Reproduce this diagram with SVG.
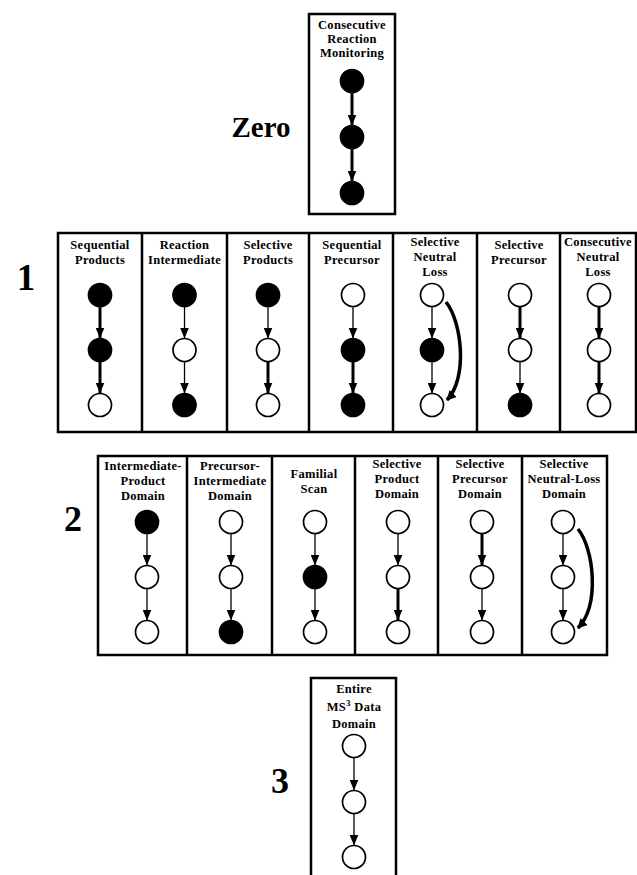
<svg xmlns="http://www.w3.org/2000/svg" width="637" height="875" viewBox="0 0 637 875">
  <style>
    .frame { fill: #fff; stroke: #000; stroke-width: 2.5; }
    .div { stroke: #000; stroke-width: 2.5; }
    .t { font-family: "Liberation Serif", "Times New Roman", serif; font-weight: bold; font-size: 12.5px; text-anchor: middle; fill: #000; letter-spacing: 0.3px; }
    .big { font-family: "Liberation Serif", "Times New Roman", serif; font-weight: bold; fill: #000; text-anchor: middle; }
    .on { fill: #000; stroke: #000; stroke-width: 1.7; }
    .off { fill: #fff; stroke: #000; stroke-width: 1.7; }
    .thin { fill: none; stroke: #000; stroke-width: 1.3; marker-end: url(#head); }
    .thick { fill: none; stroke: #000; stroke-width: 3; marker-end: url(#head); }
    .curve { fill: none; stroke: #000; stroke-width: 3.5; marker-end: url(#headC); }
  </style>
  <defs>
    <marker id="head" markerUnits="userSpaceOnUse" viewBox="0 0 11 9" refX="11" refY="4.5" markerWidth="11" markerHeight="9" orient="auto">
      <path d="M0,0 L11,4.5 L0,9 Z" fill="#000"/>
    </marker>
    <marker id="headC" markerUnits="userSpaceOnUse" viewBox="0 0 10 10" refX="9" refY="5" markerWidth="10" markerHeight="10" orient="auto">
      <path d="M0,0 L10,5 L0,10 Z" fill="#000"/>
    </marker>
  </defs>

  <!-- order labels -->
  <text class="big" x="261" y="137" font-size="29">Zero</text>
  <text class="big" x="26" y="290" font-size="37">1</text>
  <text class="big" x="73" y="531" font-size="36">2</text>
  <text class="big" x="280" y="793" font-size="36">3</text>

  <!-- order zero -->
  <g id="consecutive-reaction-monitoring">
    <rect class="frame" x="309" y="14" width="86" height="200"/>
    <text class="t" x="352" y="29" font-size="11.5">Consecutive</text>
    <text class="t" x="352" y="43" font-size="11.5">Reaction</text>
    <text class="t" x="352" y="57" font-size="11.5">Monitoring</text>
    <circle class="on" cx="352" cy="81" r="11.5"/>
    <circle class="on" cx="352" cy="137" r="11.5"/>
    <circle class="on" cx="352" cy="193" r="11.5"/>
  </g>

  <!-- order one -->
  <rect class="frame" x="58" y="233" width="578" height="199"/>
  <g id="sequential-products">
    <line class="div" x1="142" y1="233" x2="142" y2="432"/>
    <text class="t" x="100" y="249">Sequential</text>
    <text class="t" x="100" y="264">Products</text>
    <circle class="on" cx="100" cy="295" r="11.5"/>
    <circle class="on" cx="100" cy="350" r="11.5"/>
    <circle class="off" cx="100" cy="405" r="11.5"/>
  </g>
  <g id="reaction-intermediate">
    <line class="div" x1="227" y1="233" x2="227" y2="432"/>
    <text class="t" x="184.5" y="249">Reaction</text>
    <text class="t" x="184.5" y="264">Intermediate</text>
    <circle class="on" cx="184.5" cy="295" r="11.5"/>
    <circle class="off" cx="184.5" cy="350" r="11.5"/>
    <circle class="on" cx="184.5" cy="405" r="11.5"/>
  </g>
  <g id="selective-products">
    <line class="div" x1="309" y1="233" x2="309" y2="432"/>
    <text class="t" x="268" y="249">Selective</text>
    <text class="t" x="268" y="264">Products</text>
    <circle class="on" cx="268" cy="295" r="11.5"/>
    <circle class="off" cx="268" cy="350" r="11.5"/>
    <circle class="off" cx="268" cy="405" r="11.5"/>
  </g>
  <g id="sequential-precursor">
    <line class="div" x1="393" y1="233" x2="393" y2="432"/>
    <text class="t" x="352" y="249">Sequential</text>
    <text class="t" x="352" y="264">Precursor</text>
    <circle class="off" cx="353" cy="295" r="11.5"/>
    <circle class="on" cx="353" cy="350" r="11.5"/>
    <circle class="on" cx="353" cy="405" r="11.5"/>
  </g>
  <g id="selective-neutral-loss">
    <line class="div" x1="477" y1="233" x2="477" y2="432"/>
    <text class="t" x="435" y="246">Selective</text>
    <text class="t" x="435" y="261">Neutral</text>
    <text class="t" x="435" y="276">Loss</text>
    <circle class="off" cx="432" cy="295" r="11.5"/>
    <circle class="on" cx="432" cy="350" r="11.5"/>
    <circle class="off" cx="432" cy="405" r="11.5"/>
  </g>
  <g id="selective-precursor">
    <line class="div" x1="560" y1="233" x2="560" y2="432"/>
    <text class="t" x="519" y="249">Selective</text>
    <text class="t" x="519" y="264">Precursor</text>
    <circle class="off" cx="520" cy="295" r="11.5"/>
    <circle class="off" cx="520" cy="350" r="11.5"/>
    <circle class="on" cx="520" cy="405" r="11.5"/>
  </g>
  <g id="consecutive-neutral-loss">
    <text class="t" x="598" y="246" font-size="11.5">Consecutive</text>
    <text class="t" x="598" y="261">Neutral</text>
    <text class="t" x="598" y="276">Loss</text>
    <circle class="off" cx="599" cy="295" r="11.5"/>
    <circle class="off" cx="599" cy="350" r="11.5"/>
    <circle class="off" cx="599" cy="405" r="11.5"/>
  </g>

  <!-- order two -->
  <rect class="frame" x="98" y="456" width="509" height="199"/>
  <g id="intermediate-product-domain">
    <line class="div" x1="187" y1="456" x2="187" y2="655"/>
    <text class="t" x="143" y="470">Intermediate-</text>
    <text class="t" x="143" y="485">Product</text>
    <text class="t" x="143" y="500">Domain</text>
    <circle class="on" cx="147" cy="522" r="11.5"/>
    <circle class="off" cx="147" cy="577" r="11.5"/>
    <circle class="off" cx="147" cy="632" r="11.5"/>
  </g>
  <g id="precursor-intermediate-domain">
    <line class="div" x1="272" y1="456" x2="272" y2="655"/>
    <text class="t" x="230" y="470">Precursor-</text>
    <text class="t" x="230" y="485">Intermediate</text>
    <text class="t" x="230" y="500">Domain</text>
    <circle class="off" cx="231" cy="522" r="11.5"/>
    <circle class="off" cx="231" cy="577" r="11.5"/>
    <circle class="on" cx="231" cy="632" r="11.5"/>
  </g>
  <g id="familial-scan">
    <line class="div" x1="355" y1="456" x2="355" y2="655"/>
    <text class="t" x="314" y="478">Familial</text>
    <text class="t" x="314" y="493">Scan</text>
    <circle class="off" cx="315" cy="522" r="11.5"/>
    <circle class="on" cx="315" cy="577" r="11.5"/>
    <circle class="off" cx="315" cy="632" r="11.5"/>
  </g>
  <g id="selective-product-domain">
    <line class="div" x1="438" y1="456" x2="438" y2="655"/>
    <text class="t" x="397" y="468">Selective</text>
    <text class="t" x="397" y="483">Product</text>
    <text class="t" x="397" y="498">Domain</text>
    <circle class="off" cx="398" cy="522" r="11.5"/>
    <circle class="off" cx="398" cy="577" r="11.5"/>
    <circle class="off" cx="398" cy="632" r="11.5"/>
  </g>
  <g id="selective-precursor-domain">
    <line class="div" x1="522" y1="456" x2="522" y2="655"/>
    <text class="t" x="480" y="468">Selective</text>
    <text class="t" x="480" y="483">Precursor</text>
    <text class="t" x="480" y="498">Domain</text>
    <circle class="off" cx="482" cy="522" r="11.5"/>
    <circle class="off" cx="482" cy="577" r="11.5"/>
    <circle class="off" cx="482" cy="632" r="11.5"/>
  </g>
  <g id="selective-neutral-loss-domain">
    <text class="t" x="564" y="468" font-size="11.5">Selective</text>
    <text class="t" x="564" y="483" font-size="11.5">Neutral-Loss</text>
    <text class="t" x="564" y="498" font-size="11.5">Domain</text>
    <circle class="off" cx="563" cy="522" r="11.5"/>
    <circle class="off" cx="563" cy="577" r="11.5"/>
    <circle class="off" cx="563" cy="632" r="11.5"/>
  </g>

  <!-- order three -->
  <g id="entire-ms3-data-domain">
    <rect class="frame" x="311" y="678" width="85" height="210"/>
    <text class="t" x="354" y="693" font-size="11.5">Entire</text>
    <text class="t" x="354" y="711" font-size="11.5">MS<tspan dy="-5" font-size="9">3</tspan><tspan dy="5"> Data</tspan></text>
    <text class="t" x="354" y="728" font-size="11.5">Domain</text>
    <circle class="off" cx="354" cy="746" r="11.5"/>
    <circle class="off" cx="354" cy="802" r="11.5"/>
    <circle class="off" cx="354" cy="857" r="11.5"/>
  </g>

  <!-- connectors -->
  <g id="connectors">
    <line class="thick" x1="352" y1="92.5" x2="352" y2="125.5"/>
    <line class="thick" x1="352" y1="148.5" x2="352" y2="181.5"/>

    <line class="thick" x1="100" y1="306.5" x2="100" y2="338.5"/>
    <line class="thick" x1="100" y1="361.5" x2="100" y2="393.5"/>
    <line class="thin" x1="184.5" y1="306.5" x2="184.5" y2="338.5"/>
    <line class="thin" x1="184.5" y1="361.5" x2="184.5" y2="393.5"/>
    <line class="thin" x1="268" y1="306.5" x2="268" y2="338.5"/>
    <line class="thick" x1="268" y1="361.5" x2="268" y2="393.5"/>
    <line class="thin" x1="353" y1="306.5" x2="353" y2="338.5"/>
    <line class="thick" x1="353" y1="361.5" x2="353" y2="393.5"/>
    <line class="thin" x1="432" y1="306.5" x2="432" y2="338.5"/>
    <line class="thin" x1="432" y1="361.5" x2="432" y2="393.5"/>
    <path class="curve" d="M446,302 C462,322 468,378 447,400"/>
    <line class="thick" x1="520" y1="306.5" x2="520" y2="338.5"/>
    <line class="thin" x1="520" y1="361.5" x2="520" y2="393.5"/>
    <line class="thick" x1="599" y1="306.5" x2="599" y2="338.5"/>
    <line class="thick" x1="599" y1="361.5" x2="599" y2="393.5"/>

    <line class="thin" x1="147" y1="533.5" x2="147" y2="565.5"/>
    <line class="thin" x1="147" y1="588.5" x2="147" y2="620.5"/>
    <line class="thin" x1="231" y1="533.5" x2="231" y2="565.5"/>
    <line class="thin" x1="231" y1="588.5" x2="231" y2="620.5"/>
    <line class="thin" x1="315" y1="533.5" x2="315" y2="565.5"/>
    <line class="thin" x1="315" y1="588.5" x2="315" y2="620.5"/>
    <line class="thin" x1="398" y1="533.5" x2="398" y2="565.5"/>
    <line class="thick" x1="398" y1="588.5" x2="398" y2="620.5"/>
    <line class="thick" x1="482" y1="533.5" x2="482" y2="565.5"/>
    <line class="thin" x1="482" y1="588.5" x2="482" y2="620.5"/>
    <line class="thin" x1="563" y1="533.5" x2="563" y2="565.5"/>
    <line class="thin" x1="563" y1="588.5" x2="563" y2="620.5"/>
    <path class="curve" d="M578,529 C594,549 600,605 578,628"/>

    <line class="thin" x1="354" y1="757.5" x2="354" y2="790.5"/>
    <line class="thin" x1="354" y1="813.5" x2="354" y2="845.5"/>
  </g>
</svg>
